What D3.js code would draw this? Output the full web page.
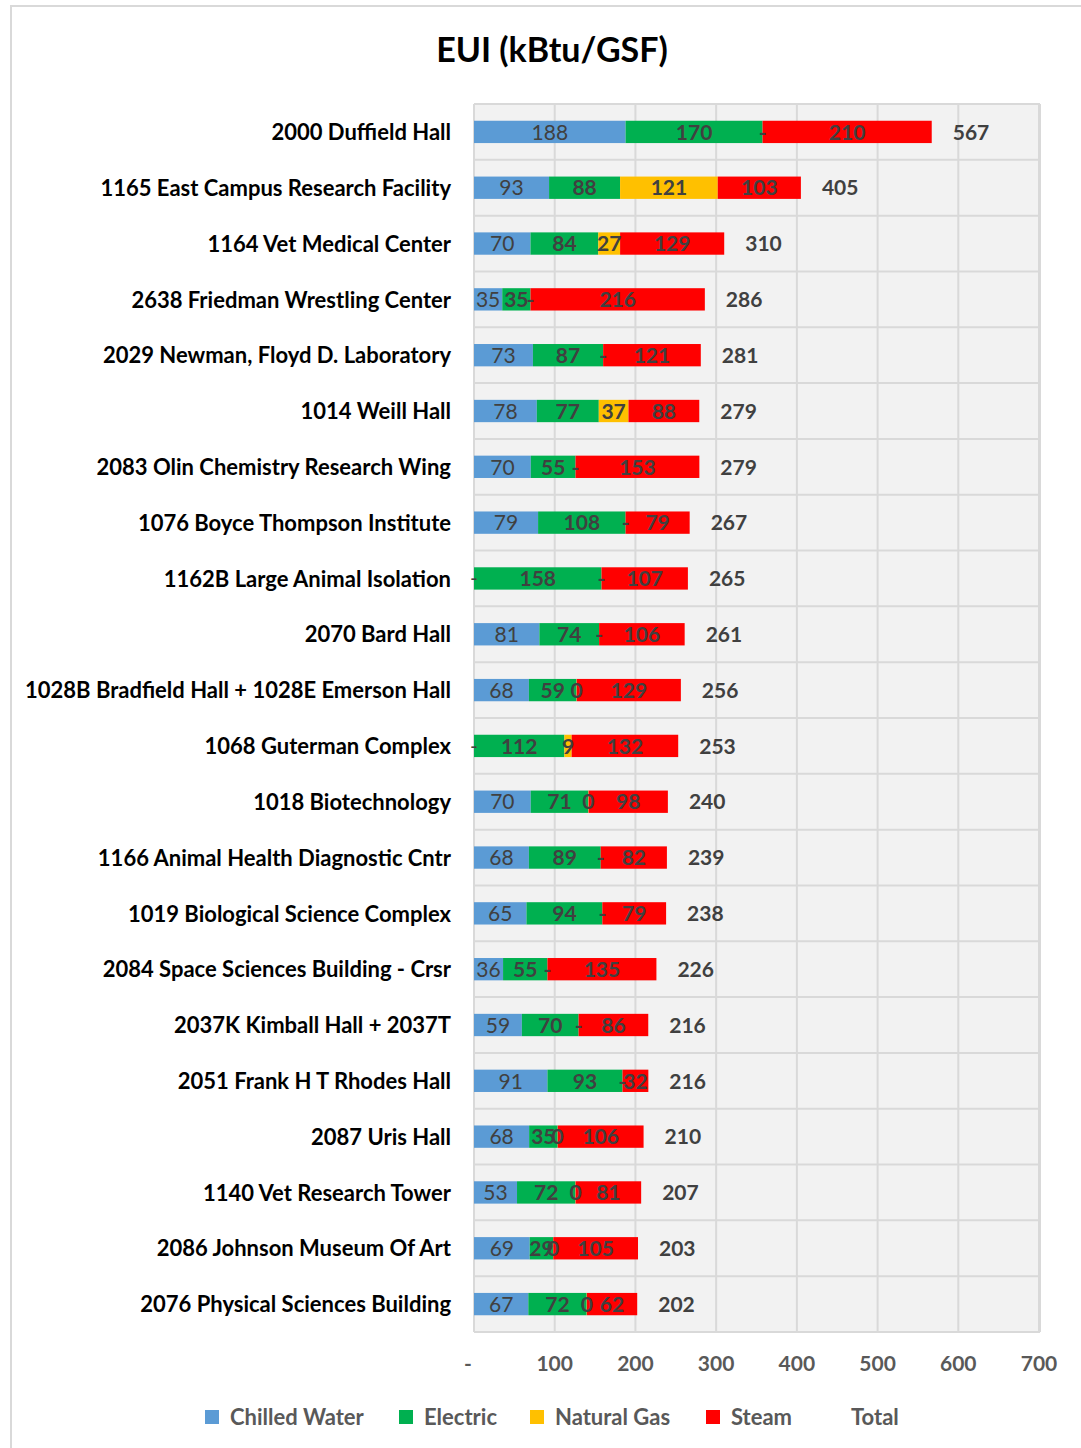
<!DOCTYPE html>
<html>
<head>
<meta charset="utf-8">
<script src="https://cdn.jsdelivr.net/npm/d3@7.9.0/dist/d3.min.js"></script>
<style>
  body { margin: 0; background: #fff; }
  svg { display: block; font-family: Lato, "Open Sans", sans-serif; }
</style>
</head>
<body>
<svg id="chart" width="1081" height="1448"></svg>
<script>
// buildings, top to bottom
const buildings = [
  "2000 Duffield Hall",
  "1165 East Campus Research Facility",
  "1164 Vet Medical Center",
  "2638 Friedman Wrestling Center",
  "2029 Newman, Floyd D. Laboratory",
  "1014 Weill Hall",
  "2083 Olin Chemistry Research Wing",
  "1076 Boyce Thompson Institute",
  "1162B Large Animal Isolation",
  "2070 Bard Hall",
  "1028B Bradfield Hall + 1028E Emerson Hall",
  "1068 Guterman Complex",
  "1018 Biotechnology",
  "1166 Animal Health Diagnostic Cntr",
  "1019 Biological Science Complex",
  "2084 Space Sciences Building - Crsr",
  "2037K Kimball Hall + 2037T",
  "2051 Frank H T Rhodes Hall",
  "2087 Uris Hall",
  "1140 Vet Research Tower",
  "2086 Johnson Museum Of Art",
  "2076 Physical Sciences Building"
];

// kBtu/GSF per source
const chilledWater = [187.8, 93, 70, 35, 73, 77.8, 70.4, 79.4, 0, 81, 68, 0, 70.3, 68, 65, 36, 59.3, 91, 68.3, 53.3, 69, 67.3];
const electric     = [169.7, 88, 84, 35, 87, 76.8, 55.4, 108.4, 158, 74, 59, 112, 71.3, 89, 94, 55, 70.3, 93, 35.3, 72.3, 29, 72.3];
const naturalGas   = [0, 121, 27, 0, 0, 36.8, 0, 0, 0, 0, 0.3, 9, 0.4, 0, 0, 0, 0, 0, 0.2, 0.3, 0.2, 0.3];
const steam        = [209.6, 103, 129, 216, 121, 87.7, 153.4, 79.4, 107, 106, 129, 132, 98.2, 82, 79, 135, 86.3, 32, 106.3, 81.2, 105, 62.3];

const seriesNames = ["Chilled Water", "Electric", "Natural Gas", "Steam"];
const seriesColors = ["#5b9bd5", "#00b050", "#ffc000", "#ff0000"];
const xTicks = [0, 100, 200, 300, 400, 500, 600, 700];

const rows = buildings.map((b, i) => ({
  name: b,
  "Chilled Water": chilledWater[i],
  "Electric": electric[i],
  "Natural Gas": naturalGas[i],
  "Steam": steam[i]
}));
rows.forEach(r => r.total = seriesNames.reduce((s, k) => s + r[k], 0));

const svg = d3.select('#chart');
const plot = { left: 474, right: 1040, top: 104, bottom: 1332 };

// outer chart border
svg.append('rect')
  .attr('x', 11).attr('y', 6).attr('width', 1100).attr('height', 1500)
  .attr('fill', '#fff').attr('stroke', '#d9d9d9').attr('stroke-width', 2);

// title
svg.append('text')
  .attr('x', 552).attr('y', 62)
  .attr('text-anchor', 'middle')
  .attr('font-size', 34).attr('font-weight', 'bold').attr('fill', '#000')
  .text('EUI (kBtu/GSF)');

const x = d3.scaleLinear().domain([0, 700]).range([plot.left, plot.right - 1]);
const y = d3.scaleBand().domain(buildings).range([plot.top, plot.bottom]).paddingInner(0.6).paddingOuter(0.3);
const yBand = d3.scaleBand().domain(buildings).range([plot.top, plot.bottom]);

// plot background
svg.append('rect')
  .attr('x', plot.left).attr('y', plot.top)
  .attr('width', plot.right - plot.left).attr('height', plot.bottom - plot.top)
  .attr('fill', '#f2f2f2');

// gridlines
const grid = svg.append('g').attr('stroke', '#d9d9d9').attr('stroke-width', 2);
xTicks.forEach(t => {
  grid.append('line').attr('x1', x(t)).attr('x2', x(t)).attr('y1', plot.top).attr('y2', plot.bottom);
});
buildings.forEach(b => {
  grid.append('line').attr('x1', plot.left).attr('x2', plot.right).attr('y1', yBand(b)).attr('y2', yBand(b));
});
grid.append('line').attr('x1', plot.left).attr('x2', plot.right).attr('y1', plot.bottom).attr('y2', plot.bottom);
grid.append('line').attr('x1', plot.right).attr('x2', plot.right).attr('y1', plot.top).attr('y2', plot.bottom);

// stacked bars
const stacked = d3.stack().keys(seriesNames)(rows);
const layers = svg.append('g').selectAll('g')
  .data(stacked).join('g')
  .attr('fill', (d, i) => seriesColors[i]);

layers.selectAll('rect')
  .data(d => d)
  .join('rect')
  .attr('x', d => x(d[0]))
  .attr('y', d => y(d.data.name))
  .attr('width', d => x(d[1]) - x(d[0]))
  .attr('height', y.bandwidth());

// segment labels
const labels = svg.append('g').attr('fill', '#404040').attr('font-size', 21);
stacked.forEach((layer, li) => {
  layer.forEach(d => {
    const v = d[1] - d[0];
    labels.append('text')
      .attr('x', x((d[0] + d[1]) / 2))
      .attr('y', yBand(d.data.name) + yBand.bandwidth() / 2)
      .attr('dy', '0.37em')
      .attr('text-anchor', 'middle')
      .attr('font-weight', li === 0 ? 'normal' : 'bold')
      .text(v === 0 ? '-' : d3.format('.0f')(v));
  });
});

// totals
svg.append('g').selectAll('text')
  .data(rows).join('text')
  .attr('x', d => x(d.total) + 21)
  .attr('y', d => yBand(d.name) + yBand.bandwidth() / 2)
  .attr('dy', '0.37em')
  .attr('font-size', 21).attr('font-weight', 'bold').attr('fill', '#404040')
  .text(d => d3.format('.0f')(d.total));

// category labels
svg.append('g').selectAll('text')
  .data(buildings).join('text')
  .attr('x', 451)
  .attr('y', d => yBand(d) + yBand.bandwidth() / 2)
  .attr('dy', '0.37em')
  .attr('text-anchor', 'end')
  .attr('font-size', 22).attr('font-weight', 'bold').attr('fill', '#000')
  .text(d => d);

// x axis labels
svg.append('g').selectAll('text')
  .data(xTicks).join('text')
  .attr('x', d => d === 0 ? x(d) - 6 : x(d))
  .attr('y', 1363)
  .attr('dy', '0.37em')
  .attr('text-anchor', 'middle')
  .attr('font-size', 21).attr('font-weight', 'bold').attr('fill', '#595959')
  .text(d => d === 0 ? '-' : d);

// legend
const legendItems = [
  { name: "Chilled Water", color: seriesColors[0], x: 205 },
  { name: "Electric", color: seriesColors[1], x: 399 },
  { name: "Natural Gas", color: seriesColors[2], x: 530 },
  { name: "Steam", color: seriesColors[3], x: 706 },
  { name: "Total", color: "none", x: 826 }
];
const legend = svg.append('g');
legendItems.forEach(it => {
  legend.append('rect')
    .attr('x', it.x).attr('y', 1410).attr('width', 14).attr('height', 14)
    .attr('fill', it.color);
  legend.append('text')
    .attr('x', it.x + 25).attr('y', 1417)
    .attr('dy', '0.37em')
    .attr('font-size', 22).attr('font-weight', 'bold').attr('fill', '#595959')
    .text(it.name);
});
</script>
</body>
</html>
